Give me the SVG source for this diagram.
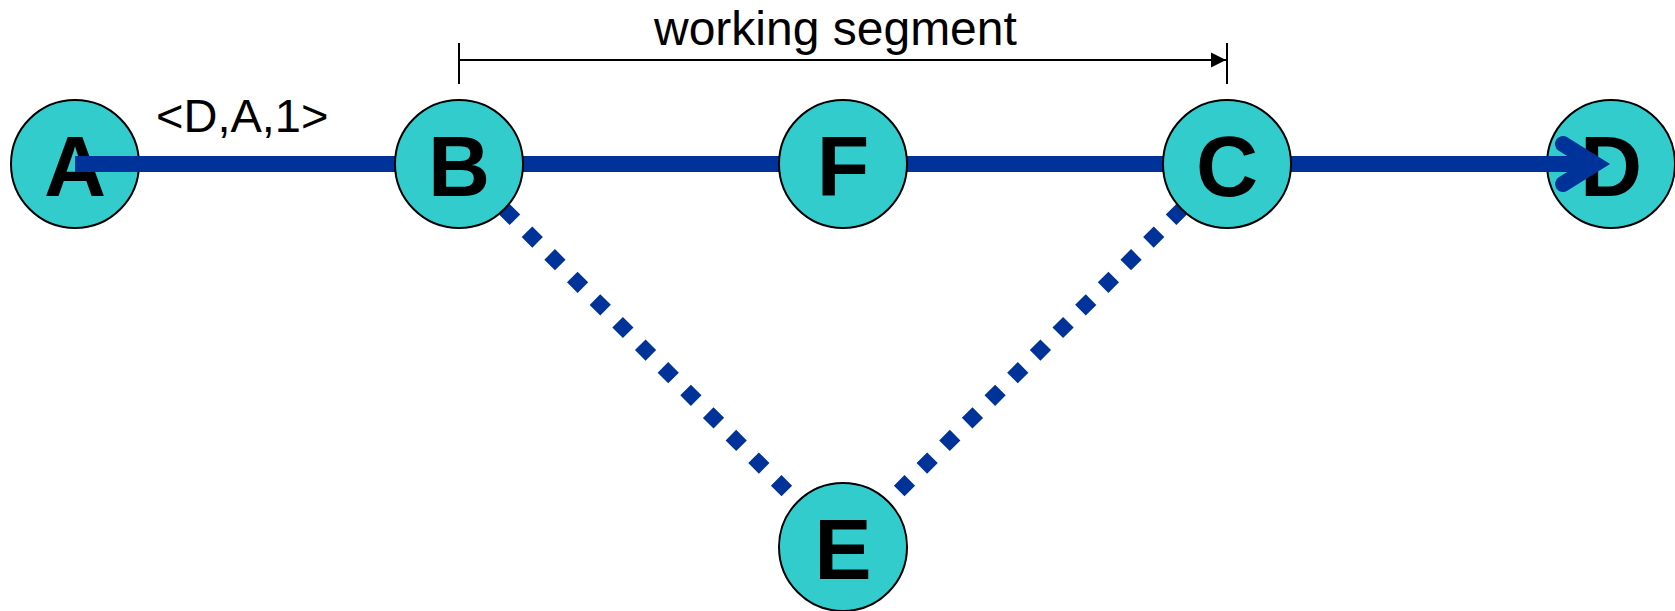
<svg xmlns="http://www.w3.org/2000/svg" width="1675" height="611" viewBox="0 0 1675 611">
<style>
.node{fill:#33CCCC;stroke:#000;stroke-width:2}
.lbl{font-family:"Liberation Sans",Arial,sans-serif;font-weight:bold;font-size:86px;text-anchor:middle;fill:#000}
.txt{font-family:"Liberation Sans",Arial,sans-serif;font-size:47px;fill:#000}
.main{stroke:#003399;stroke-width:16;fill:none}
.dot{stroke:#003399;stroke-width:15;stroke-dasharray:15 17;fill:none}
.thin{stroke:#000;stroke-width:2;fill:none}
</style>
<defs>
<marker id="tri" markerWidth="16" markerHeight="16" refX="15" refY="8" orient="auto" markerUnits="userSpaceOnUse">
<path d="M0,0.5 L15,8 L0,15.5 Z" fill="#000"/>
</marker>
</defs>
<g id="node-A"><circle class="node" cx="75" cy="164" r="64"/><text class="lbl" x="75" y="196">A</text></g>
<g id="node-D"><circle class="node" cx="1611" cy="164" r="64"/><text class="lbl" x="1611" y="196">D</text></g>
<g id="connectors">
<line class="main" x1="75" y1="164" x2="1592" y2="164"/>
<polyline class="main" points="1563,144 1595,164 1563,184" stroke-linecap="round" stroke-linejoin="miter" stroke-miterlimit="10"/>
<line class="dot" x1="459" y1="164" x2="843" y2="547"/>
<line class="dot" x1="1227" y1="164" x2="843" y2="547"/>
<line class="thin" x1="459" y1="43" x2="459" y2="84"/>
<line class="thin" x1="1227" y1="43" x2="1227" y2="84"/>
<line class="thin" x1="459" y1="60" x2="1226" y2="60" marker-end="url(#tri)"/>
</g>
<g id="node-B"><circle class="node" cx="459" cy="164" r="64"/><text class="lbl" x="459" y="196">B</text></g>
<g id="node-F"><circle class="node" cx="843" cy="164" r="64"/><text class="lbl" x="843" y="196">F</text></g>
<g id="node-C"><circle class="node" cx="1227" cy="164" r="64"/><text class="lbl" x="1227" y="196">C</text></g>
<g id="node-E"><circle class="node" cx="843" cy="547" r="64"/><text class="lbl" x="843" y="579">E</text></g>
<text class="txt" x="156" y="132">&lt;D,A,1&gt;</text>
<text class="txt" x="654" y="45" style="font-size:48px">working segment</text>
</svg>
